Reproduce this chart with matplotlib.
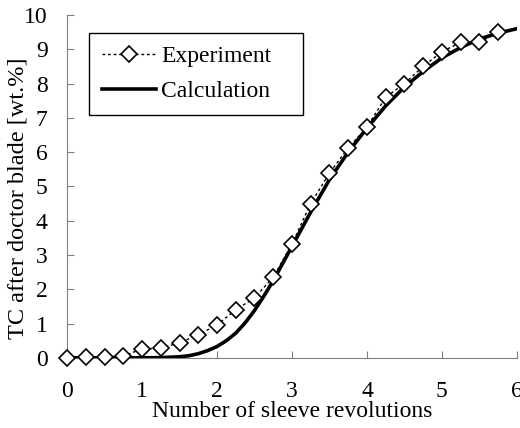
import matplotlib
matplotlib.use("Agg")
import matplotlib.pyplot as plt

# experiment (every quarter revolution)
exp_x = [0, 0.25, 0.5, 0.75, 1.0, 1.25, 1.5, 1.75, 2.0, 2.25, 2.5, 2.75,
         3.0, 3.25, 3.5, 3.75, 4.0, 4.25, 4.5, 4.75, 5.0, 5.25, 5.5, 5.75]
exp_y = [0.0, 0.02, 0.03, 0.05, 0.26, 0.28, 0.44, 0.67, 0.96, 1.4, 1.75, 2.35,
         3.32, 4.5, 5.39, 6.12, 6.73, 7.6, 8.0, 8.5, 8.93, 9.2, 9.2, 9.5]

# calculation
calc_x = [0, 0.5, 1.0, 1.25, 1.5, 1.625, 1.75, 1.875, 2.0, 2.125, 2.25, 2.375,
          2.5, 2.625, 2.75, 3.0, 3.25, 3.5, 3.75, 4.0, 4.25, 4.5, 4.75,
          5.0, 5.25, 5.5, 5.75, 6.0]
calc_y = [0, 0, 0, 0.005, 0.03, 0.06, 0.12, 0.21, 0.33, 0.5, 0.72, 1.02,
          1.38, 1.8, 2.25, 3.25, 4.25, 5.2, 6.0, 6.7, 7.35, 7.9, 8.35,
          8.75, 9.05, 9.3, 9.47, 9.6]

plt.rcParams['font.family'] = ['Liberation Serif', 'DejaVu Serif']
plt.rcParams['font.size'] = 17

fig = plt.figure(figsize=(5.2, 4.28), dpi=100)
ax = fig.add_axes([0.129, 0.164, 0.865, 0.801])

ax.plot(exp_x, exp_y, color='black', lw=1, linestyle=(0, (2, 2)),
        marker='D', ms=8, mfc='white', mec='black', mew=1.2,
        clip_on=False, zorder=3, label='Experiment')
ax.plot(calc_x, calc_y, color='black', lw=2.6, zorder=2, label='Calculation')

ax.set_xlim(0, 6)
ax.set_ylim(0, 10)
ax.set_xticks(range(0, 7))
ax.set_yticks(range(0, 11))
ax.tick_params(direction='in', length=5, color='#808080', labelsize=17)
ax.tick_params(axis='x', pad=17)
ax.tick_params(axis='y', pad=14)
for s in ['top', 'right']:
    ax.spines[s].set_visible(False)
for s in ['left', 'bottom']:
    ax.spines[s].set_color('#808080')

ax.set_xlabel('Number of sleeve revolutions', fontsize=17, labelpad=-1)
ax.set_ylabel('TC after doctor blade [wt.%]', fontsize=17.5)
ax.yaxis.set_label_coords(-0.085, 0.466)

leg = ax.legend(loc='upper left', bbox_to_anchor=(0.049, 0.714, 0.475, 0.234),
                mode='expand', borderaxespad=0,
                fancybox=False, edgecolor='black', framealpha=1,
                handlelength=2.3, handletextpad=0.2, fontsize=17,
                borderpad=0.55, labelspacing=0.55)
leg.get_frame().set_linewidth(1)

fig.savefig('out.png', dpi=100)
